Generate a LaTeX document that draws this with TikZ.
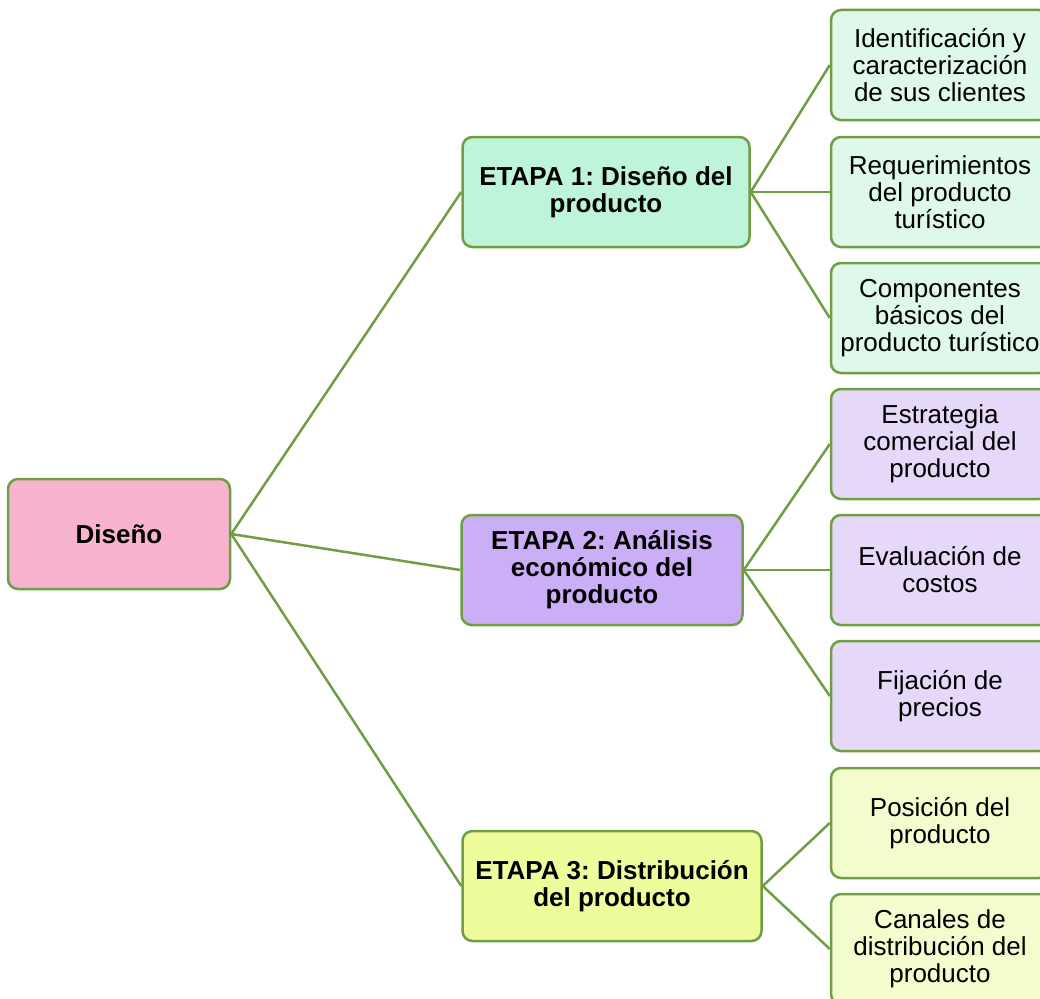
\documentclass[tikz,border=0pt]{standalone}
\usepackage{fontspec}
\setmainfont{Liberation Sans}
\frenchspacing
\definecolor{edgegreen}{HTML}{6F9E45}
\definecolor{rootpink}{HTML}{F8B3CE}
\definecolor{stageone}{HTML}{BEF5D8}
\definecolor{stagetwo}{HTML}{CBAFF6}
\definecolor{stagethree}{HTML}{EEFC9C}
\definecolor{leafone}{HTML}{DEF8EA}
\definecolor{leaftwo}{HTML}{E6D8F9}
\definecolor{leafthree}{HTML}{F3FCCC}
\begin{document}
\begin{tikzpicture}[x=1pt,y=-1pt]
\tikzstyle{box}=[draw=edgegreen, line width=2.5pt, rounded corners=10pt, align=center, inner sep=0pt, minimum height=110pt, font=\fontsize{26}{27}\selectfont]
\tikzstyle{bold}=[box, font=\bfseries\fontsize{26}{27}\selectfont]
\tikzstyle{leaf}=[box, minimum width=218pt]
\tikzstyle{link}=[draw=edgegreen, line width=2.5pt]
\useasboundingbox (0,0) rectangle (1040,998);
\node[bold, fill=rootpink, minimum width=222pt] (diseno) at (119,534) {Diseño};
\node[bold, fill=stageone, minimum width=287pt] (etapa1) at (606,192) {ETAPA 1: Diseño del\\producto};
\node[bold, fill=stagetwo, minimum width=281pt] (etapa2) at (602,570) {ETAPA 2: Análisis\\económico del\\producto};
\node[bold, fill=stagethree, minimum width=299pt] (etapa3) at (612,886) {ETAPA 3: Distribución\\del producto};
\node[leaf, fill=leafone] (clientes) at (940,65) {Identificación y\\caracterización\\de sus clientes};
\node[leaf, fill=leafone] (requer) at (940,192) {Requerimientos\\del producto\\turístico};
\node[leaf, fill=leafone] (compon) at (940,318) {Componentes\\básicos del\\producto turístico};
\node[leaf, fill=leaftwo] (estrat) at (940,444) {Estrategia\\comercial del\\producto};
\node[leaf, fill=leaftwo] (costos) at (940,570) {Evaluación de\\costos};
\node[leaf, fill=leaftwo] (precios) at (940,696) {Fijación de\\precios};
\node[leaf, fill=leafthree] (posicion) at (940,823) {Posición del\\producto};
\node[leaf, fill=leafthree] (canales) at (940,949) {Canales de\\distribución del\\producto};
\foreach \s in {etapa1,etapa2,etapa3}
  \draw[link] (diseno.east) -- (\s.west);
\foreach \l in {clientes,requer,compon}
  \draw[link] (etapa1.east) -- (\l.west);
\foreach \l in {estrat,costos,precios}
  \draw[link] (etapa2.east) -- (\l.west);
\foreach \l in {posicion,canales}
  \draw[link] (etapa3.east) -- (\l.west);
\end{tikzpicture}
\end{document}
